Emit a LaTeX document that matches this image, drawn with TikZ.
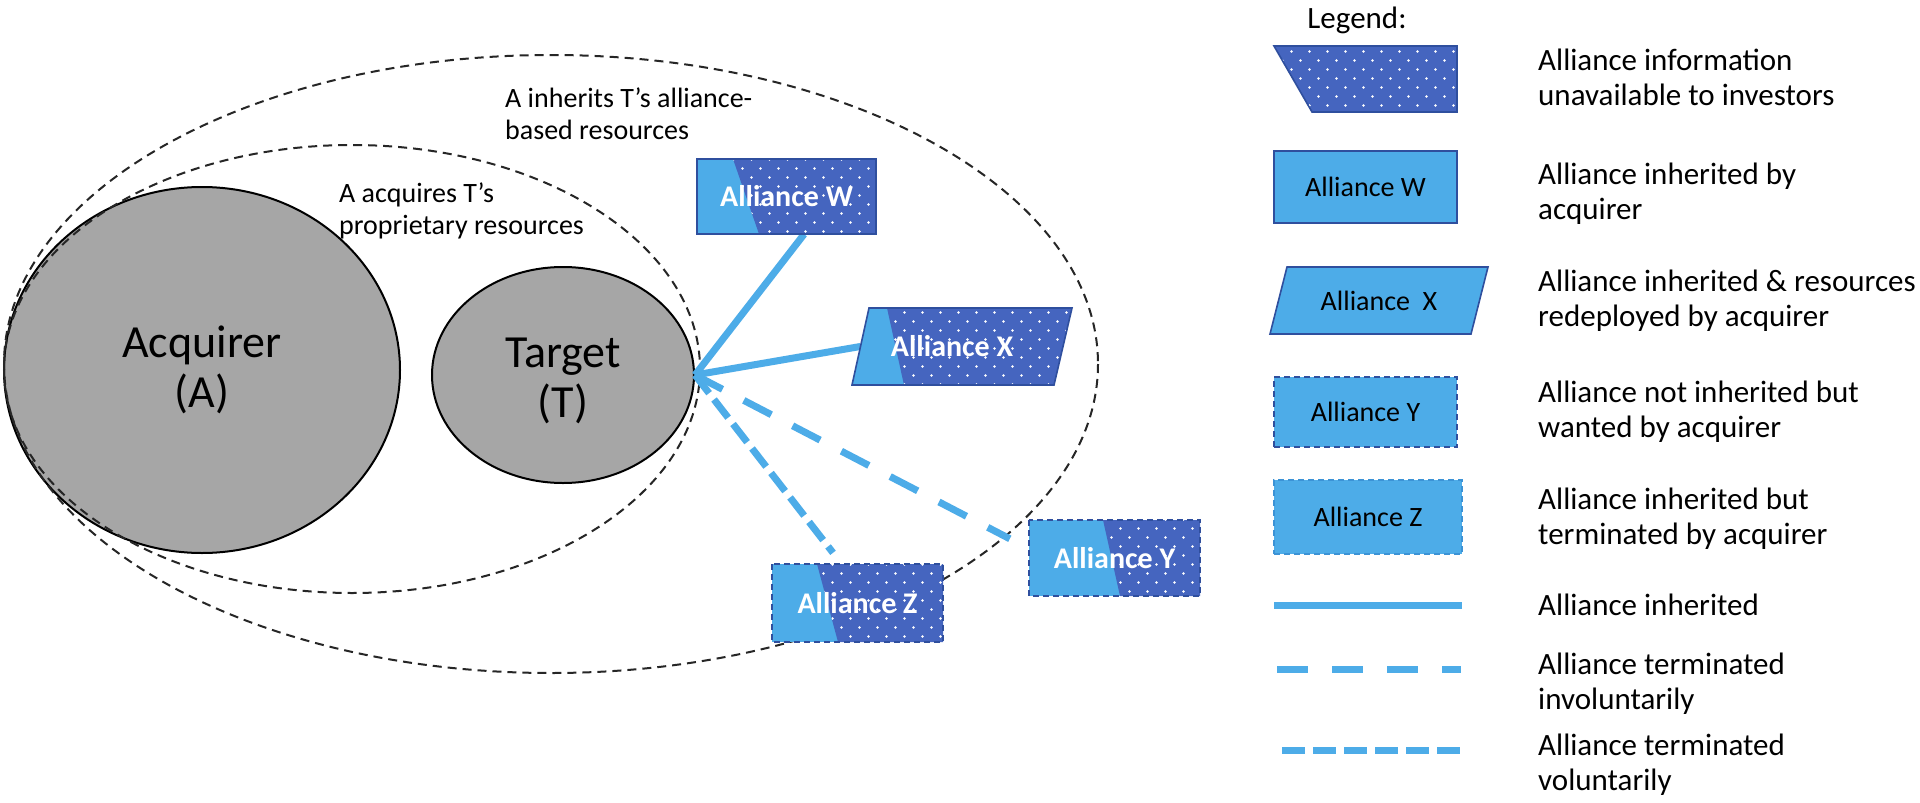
\documentclass[tikz,border=0pt]{standalone}
\usepackage{fontspec}
\setmainfont{Carlito}
\usetikzlibrary{shapes.geometric,patterns,calc}
\definecolor{lb}{HTML}{4DACE8}
\definecolor{db}{HTML}{4565BF}
\definecolor{bb}{HTML}{2F4F9E}
\definecolor{gbg}{HTML}{A6A6A6}
\definecolor{lz}{HTML}{3C93D6}
\pgfdeclarepatternformonly{adots}{\pgfqpoint{-1pt}{-1pt}}{\pgfqpoint{19pt}{19pt}}{\pgfqpoint{18pt}{18pt}}{%
  \pgfpathcircle{\pgfqpoint{4.5pt}{4.5pt}}{1.3pt}%
  \pgfpathcircle{\pgfqpoint{13.5pt}{13.5pt}}{1.3pt}%
  \pgfusepath{fill}}
\tikzset{
  ell/.style={draw=black!85, line width=2pt, dash pattern=on 9pt off 6pt},
  blob/.style={ellipse, draw=black, line width=2pt, fill=gbg, inner sep=0pt, align=center,
    font=\fontsize{46}{50}\selectfont},
  bigtext/.style={align=center, inner sep=0pt, font=\fontsize{46}{50}\selectfont},
  darkdots/.style={fill=db, postaction={pattern=adots, pattern color=white}},
  bd/.style={draw=bb, line width=1.6pt},
  dashbd/.style={draw=bb, line width=1.6pt, dash pattern=on 6pt off 4pt},
  lab/.style={text=white, font=\bfseries\fontsize{30}{34}\selectfont, inner sep=0pt},
  conn/.style={draw=lb, line width=7pt},
  invol/.style={conn, dash pattern=on 31pt off 24pt},
  vol/.style={conn, dash pattern=on 23pt off 8pt},
  legtext/.style={anchor=west, align=left, font=\fontsize{31}{35}\selectfont, inner sep=0pt},
  annot/.style={anchor=west, align=left, font=\fontsize{28}{32}\selectfont, inner sep=0pt},
  leglab/.style={font=\fontsize{28}{30}\selectfont, inner sep=0pt}
}
\begin{document}
\begin{tikzpicture}[x=1pt,y=-1pt]
\useasboundingbox[fill=white] (0,0) rectangle (1920,803);

% firms
\node[blob, minimum width=396pt, minimum height=366pt] (A) at (202,370) {Acquirer\\(A)};
\node[blob, minimum width=262pt, minimum height=216pt] (T) at (563,375) {};
\node[bigtext] (Tlab) at ($(T)+(0,6)$) {Target\\(T)};

% resource boundaries
\draw[ell] (352,369) ellipse [x radius=348, y radius=224];
\draw[ell] (551,364) ellipse [x radius=547, y radius=309];

\node[annot] (n1) at (339,211) {A acquires T’s\\proprietary resources};
\node[annot] (n2) at (505,114) {A inherits T’s alliance-\\based resources};

% alliance nodes (names, used for connectors)
\node[minimum width=179pt, minimum height=75pt, inner sep=0pt] (W) at (786.5,196.5) {};
\node[minimum width=203pt, minimum height=77pt, inner sep=0pt] (X) at (962,346.5) {};
\node[minimum width=171pt, minimum height=76pt, inner sep=0pt] (Y) at (1114.5,558) {};
\node[minimum width=171pt, minimum height=78pt, inner sep=0pt] (Z) at (857.5,603) {};
\coordinate (yend) at ($(Y.north west)+(-19,19)$);
\coordinate (zend) at ($(Z.north)+(-24.5,-11)$);

% connectors
\draw[conn] (T.east) -- (W.-65);
\draw[conn] (T.east) -- (X.west);
\draw[invol] (T.east) -- (yend);
\draw[vol] (T.east) -- (zend);

% Alliance W
\fill[lb] (697,159) rectangle (876,234);
\path[darkdots] (733,159) -- (876,159) -- (876,234) -- (759,234) -- cycle;
\draw[bd] (697,159) rectangle (876,234);
\node[lab] at (W) {Alliance W};

% Alliance X
\fill[lb] (869,308) -- (1072,308) -- (1054,385) -- (852,385) -- cycle;
\path[darkdots] (887,308) -- (1072,308) -- (1054,385) -- (904,385) -- cycle;
\draw[bd] (869,308) -- (1072,308) -- (1054,385) -- (852,385) -- cycle;
\node[lab] at ($(X)+(-10,0)$) {Alliance X};

% Alliance Y
\fill[lb] (1029,520) rectangle (1200,596);
\path[darkdots] (1103,520) -- (1200,520) -- (1200,596) -- (1120,596) -- cycle;
\draw[dashbd] (1029,520) rectangle (1200,596);
\node[lab] at (Y) {Alliance Y};

% Alliance Z
\fill[lb] (772,564) rectangle (943,642);
\path[darkdots] (817,564) -- (943,564) -- (943,642) -- (838,642) -- cycle;
\draw[dashbd] (772,564) rectangle (943,642);
\node[lab] at (Z) {Alliance Z};

% legend
\node[font=\fontsize{31}{35}\selectfont, inner sep=0pt] (leg) at (1357,20) {Legend:};

\path[darkdots] (1274,46) -- (1457,46) -- (1457,112) -- (1312,112) -- cycle;
\draw[bd] (1274,46) -- (1457,46) -- (1457,112) -- (1312,112) -- cycle;
\node[legtext] (t1) at (1538,77.5) {Alliance information\\unavailable to investors};

\node[bd, fill=lb, leglab, minimum width=183pt, minimum height=72pt] (lw) at (1365.5,187) {Alliance W};
\node[legtext] (t2) at (1538,193.5) {Alliance inherited by\\acquirer};

\fill[lb] (1287,267) -- (1488,267) -- (1471,334) -- (1270,334) -- cycle;
\draw[bd] (1287,267) -- (1488,267) -- (1471,334) -- (1270,334) -- cycle;
\node[leglab] (lx) at (1379,300.5) {Alliance\ \ X};
\node[legtext] (t3) at (1538,300.5) {Alliance inherited \& resources\\redeployed by acquirer};

\node[dashbd, fill=lb, leglab, minimum width=183pt, minimum height=70pt] (ly) at (1365.5,412) {Alliance Y};
\node[legtext] (t4) at (1538,412) {Alliance not inherited but\\wanted by acquirer};

\node[draw=lz, line width=1.6pt, dash pattern=on 6pt off 4pt, fill=lb, leglab, minimum width=188pt, minimum height=74pt] (lz) at (1368,517) {Alliance Z};
\node[legtext] (t5) at (1538,518.5) {Alliance inherited but\\terminated by acquirer};

\draw[conn] (1274,605) -- (1462,605);
\node[legtext] (t6) at (1538,605) {Alliance inherited};

\draw[invol] (1277,669) -- (1461,669);
\node[legtext] (t7) at (1538,683.5) {Alliance terminated\\involuntarily};

\draw[vol] (1282,750) -- (1461,750);
\node[legtext] (t8) at (1538,765) {Alliance terminated\\voluntarily};
\end{tikzpicture}
\end{document}
